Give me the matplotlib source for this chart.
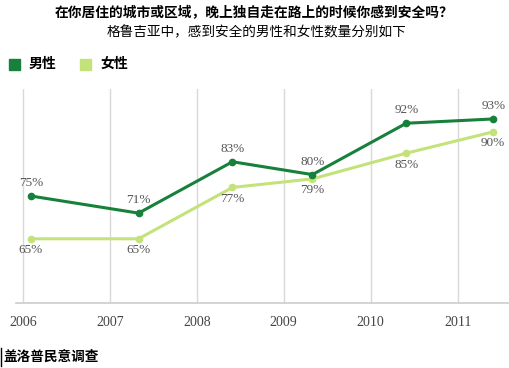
import matplotlib
matplotlib.use("Agg")
import matplotlib.pyplot as plt

# survey dates (fractional year) and share who feel safe, %
dates = [2006.09, 2007.33, 2008.41, 2009.33, 2010.41, 2011.41]
men = [75, 71, 83, 80, 92, 93]
women = [65, 65, 77, 79, 85, 90]
years = [2006, 2007, 2008, 2009, 2010, 2011]

title = "在你居住的城市或区域，晚上独自走在路上的时候你感到安全吗？"
subtitle = "格鲁吉亚中，感到安全的男性和女性数量分别如下"
series_names = ["男性", "女性"]
source = "盖洛普民意调查"

dark = "#17803a"
light = "#c3e37a"
cjk = ["Noto Sans CJK SC", "DejaVu Sans"]
serif = "Liberation Serif"

fig = plt.figure(figsize=(5.1, 3.68), dpi=100)
ax = fig.add_axes([16 / 510, 65 / 368, 492 / 510, 214 / 368])

ax.plot(dates, men, color=dark, lw=2.2, marker="o", ms=4.5, zorder=3)
ax.plot(dates, women, color=light, lw=2.2, marker="o", ms=4.5, zorder=2)

for x, v in zip(dates, men):
    ax.annotate(f"{v}%", (x, v), xytext=(0, 5), textcoords="offset points",
                ha="center", va="bottom", fontsize=9.5, color="#555555",
                family=serif)
for x, v in zip(dates, women):
    ax.annotate(f"{v}%", (x, v), xytext=(0, -4), textcoords="offset points",
                ha="center", va="top", fontsize=9.5, color="#555555",
                family=serif)

ax.set_xlim(2005.92, 2011.58)
ax.set_ylim(50, 100)
ax.set_xticks(years)
ax.set_xticklabels([str(y) for y in years], family=serif, fontsize=10,
                   color="#444444")
ax.tick_params(axis="x", length=0, pad=9)
ax.set_yticks([])
ax.grid(axis="x", color="#d8d8d8", lw=1)
for s in ["top", "left", "right"]:
    ax.spines[s].set_visible(False)
ax.spines["bottom"].set_color("#cccccc")
ax.spines["bottom"].set_linewidth(1.2)

fig.text(254 / 510, 1 - 13 / 368, title, ha="center", va="center",
         fontsize=9.9, weight="bold", family=cjk)
fig.text(256 / 510, 1 - 32 / 368, subtitle, ha="center", va="center",
         fontsize=9.8, family=cjk)

# legend
for i, (name, c) in enumerate(zip(series_names, [dark, light])):
    x0 = 9 + i * 71
    fig.patches.append(plt.Rectangle((x0 / 510, 1 - 70 / 368), 11 / 510,
                                     11 / 368, transform=fig.transFigure,
                                     color=c, figure=fig))
    fig.text((x0 + 20) / 510, 1 - 64 / 368, name, ha="left", va="center",
             fontsize=10, weight="bold", family=cjk)

fig.text(3 / 510, 1 - 357 / 368, source, ha="left", va="center",
         fontsize=9.8, weight="bold", family=cjk)
fig.add_artist(plt.Line2D([1.5 / 510, 1.5 / 510], [1 - 348 / 368, 1 - 366 / 368],
                          color="black", lw=1))

fig.savefig("out.png", dpi=100)
